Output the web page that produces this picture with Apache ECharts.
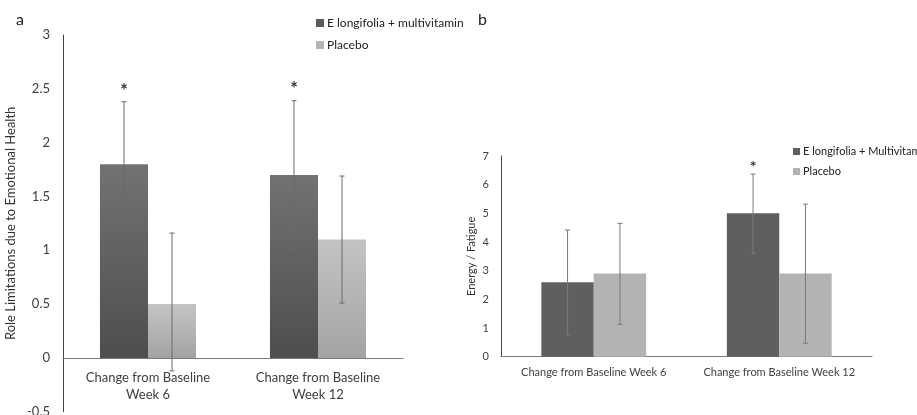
<!DOCTYPE html>
<html>
<head>
<meta charset="utf-8">
<script src="https://cdn.jsdelivr.net/npm/echarts@6/dist/echarts.min.js"></script>
<style>html,body{margin:0;padding:0;background:#fff;}#c{width:917px;height:415px;}</style>
</head>
<body>
<div id="c"></div>
<script>
// ---- Panel a data ----
const categoriesA = ['Change from Baseline\nWeek 6', 'Change from Baseline\nWeek 12'];
const nameA1 = 'E longifolia + multivitamin';
const nameA2 = 'Placebo';
const elongA = [1.8, 1.7];
const elongALow = [1.22, 1.01];
const elongAHigh = [2.38, 2.39];
const elongASig = ['*', '*'];
const placeboA = [0.5, 1.1];
const placeboALow = [-0.12, 0.51];
const placeboAHigh = [1.16, 1.69];
const placeboASig = ['', ''];
const yTicksA = { min: -0.5, max: 3, interval: 0.5 };

// ---- Panel b data ----
const categoriesB = ['Change from Baseline Week 6', 'Change from Baseline Week 12'];
const nameB1 = 'E longifolia + Multivitamin';
const nameB2 = 'Placebo ';
const elongB = [2.6, 5.0];
const elongBLow = [0.76, 3.6];
const elongBHigh = [4.42, 6.37];
const elongBSig = ['', '*'];
const placeboB = [2.9, 2.9];
const placeboBLow = [1.13, 0.47];
const placeboBHigh = [4.65, 5.32];
const placeboBSig = ['', ''];
const yTicksB = { min: 0, max: 7, interval: 1 };

const FONT = 'Lato, "Open Sans", sans-serif';
const GAP = 0.435;

function grad(top, bottom) {
  return new echarts.graphic.LinearGradient(0, 0, 0, 1, [
    { offset: 0, color: top }, { offset: 1, color: bottom }
  ]);
}

function errSeries(xi, yi, low, high, sig, side, color, sigGap, sigSize) {
  const data = low.map((l, i) => [i, l, high[i], sig[i]]);
  return {
    type: 'custom', xAxisIndex: xi, yAxisIndex: yi, z: 10, silent: true,
    data: data,
    renderItem: function (params, api) {
      const band = api.size([1, 0])[0];
      const bw = band * (1 - GAP) / 2;
      const ci = api.value(0);
      const lo = api.coord([ci, api.value(1)]);
      const hi = api.coord([ci, api.value(2)]);
      const x = lo[0] + side * bw / 2;
      const cap = 2.5;
      const children = [
        { type: 'line', shape: { x1: x, y1: hi[1], x2: x, y2: lo[1] }, style: { stroke: color, lineWidth: 1 } },
        { type: 'line', shape: { x1: x - cap, y1: hi[1], x2: x + cap, y2: hi[1] }, style: { stroke: color, lineWidth: 1 } },
        { type: 'line', shape: { x1: x - cap, y1: lo[1], x2: x + cap, y2: lo[1] }, style: { stroke: color, lineWidth: 1 } }
      ];
      const s = api.value(3);
      if (s) {
        children.push({ type: 'text', x: x, y: hi[1] - sigGap,
          style: { text: s, fill: '#333', font: 'bold ' + sigSize + 'px ' + FONT, align: 'center', verticalAlign: 'middle' } });
      }
      return { type: 'group', children: children };
    }
  };
}

const chart = echarts.init(document.getElementById('c'), null, { renderer: 'canvas' });
const axisLabelColor = '#404040';

const option = {
  animation: false,
  backgroundColor: '#fff',
  textStyle: { fontFamily: FONT },
  graphic: [
    { type: 'text', left: 16, top: 12, style: { text: 'a', font: '16px ' + FONT, fill: '#222' } },
    { type: 'text', left: 478, top: 12, style: { text: 'b', font: '16px ' + FONT, fill: '#222' } }
  ],
  legend: [
    {
      orient: 'vertical', left: 311, top: 11, itemWidth: 8, itemHeight: 8, itemGap: 8,
      icon: 'rect',
      textStyle: { fontSize: 12, color: '#222', fontFamily: FONT, padding: [0, 0, 0, -2], lineHeight: 14 },
      data: [
        { name: nameA1, itemStyle: { color: '#5a5a5a' } },
        { name: nameA2, itemStyle: { color: '#b5b5b5' } }
      ]
    },
    {
      orient: 'vertical', left: 788, top: 140, itemWidth: 7, itemHeight: 7, itemGap: 7,
      icon: 'rect',
      textStyle: { fontSize: 11, color: '#222', fontFamily: FONT, padding: [0, 0, 0, -2], lineHeight: 13 },
      data: [
        { name: nameB1, itemStyle: { color: '#5f5f5f' } },
        { name: nameB2, itemStyle: { color: '#b3b3b3' } }
      ]
    }
  ],
  grid: [
    { left: 63, right: 514, top: 35, bottom: 3.25, containLabel: false, outerBoundsMode: 'none' },
    { left: 501, right: 45, top: 156, bottom: 58.3, containLabel: false, outerBoundsMode: 'none' },
    // label carrier for panel a: its bottom edge sits on the zero line
    { left: 63, right: 514, top: 35, bottom: 57, containLabel: false, outerBoundsMode: 'none' }
  ],
  xAxis: [
    {
      type: 'category', gridIndex: 0, data: categoriesA,
      axisLine: { onZero: true, lineStyle: { color: '#7a7a7a', width: 1 } },
      axisTick: { show: false },
      axisLabel: { show: false }
    },
    {
      type: 'category', gridIndex: 1, data: categoriesB,
      axisLine: { onZero: true, lineStyle: { color: '#7a7a7a', width: 1 } },
      axisTick: { show: false },
      axisLabel: { color: axisLabelColor, fontSize: 11, margin: 10, fontFamily: FONT, interval: 0 }
    },
    {
      type: 'category', gridIndex: 2, data: categoriesA,
      axisLine: { show: false }, axisTick: { show: false },
      axisLabel: { color: axisLabelColor, fontSize: 13, margin: 11, lineHeight: 17, fontFamily: FONT, interval: 0 }
    }
  ],
  yAxis: [
    {
      type: 'value', gridIndex: 0, min: yTicksA.min, max: yTicksA.max, interval: yTicksA.interval,
      axisLine: { show: true, lineStyle: { color: '#444', width: 1 } },
      axisTick: { show: false }, splitLine: { show: false },
      axisLabel: { color: axisLabelColor, fontSize: 13, margin: 13, fontFamily: FONT },
      name: 'Role Limitations due to Emotional Health', nameLocation: 'middle', nameGap: 46,
      nameTextStyle: { color: '#333', fontSize: 13, fontFamily: FONT }
    },
    {
      type: 'value', gridIndex: 1, min: yTicksB.min, max: yTicksB.max, interval: yTicksB.interval,
      axisLine: { show: true, lineStyle: { color: '#444', width: 1 } },
      axisTick: { show: false }, splitLine: { show: false },
      axisLabel: { color: axisLabelColor, fontSize: 11, margin: 12, fontFamily: FONT },
      name: 'Energy / Fatigue', nameLocation: 'middle', nameGap: 24,
      nameTextStyle: { color: '#333', fontSize: 11, fontFamily: FONT }
    },
    {
      type: 'value', gridIndex: 2, show: false
    }
  ],
  series: [
    {
      name: nameA1, type: 'bar', xAxisIndex: 0, yAxisIndex: 0, data: elongA,
      barGap: '0%', barCategoryGap: (GAP * 100) + '%',
      itemStyle: { color: grad('#727272', '#4e4e4e') }
    },
    {
      name: nameA2, type: 'bar', xAxisIndex: 0, yAxisIndex: 0, data: placeboA,
      barGap: '0%', barCategoryGap: (GAP * 100) + '%',
      itemStyle: { color: grad('#c4c4c4', '#a3a3a3') }
    },
    errSeries(0, 0, elongALow, elongAHigh, elongASig, -1, '#6a6a6a', 11, 18),
    errSeries(0, 0, placeboALow, placeboAHigh, placeboASig, 1, '#6a6a6a', 11, 18),
    {
      name: nameB1, type: 'bar', xAxisIndex: 1, yAxisIndex: 1, data: elongB,
      barGap: '0%', barCategoryGap: (GAP * 100) + '%',
      itemStyle: { color: '#5f5f5f' }
    },
    {
      name: nameB2, type: 'bar', xAxisIndex: 1, yAxisIndex: 1, data: placeboB,
      barGap: '0%', barCategoryGap: (GAP * 100) + '%',
      itemStyle: { color: '#b3b3b3' }
    },
    errSeries(1, 1, elongBLow, elongBHigh, elongBSig, -1, '#7a7a7a', 7, 16),
    errSeries(1, 1, placeboBLow, placeboBHigh, placeboBSig, 1, '#7a7a7a', 7, 16)
  ]
};
chart.setOption(option);
</script>
</body>
</html>
